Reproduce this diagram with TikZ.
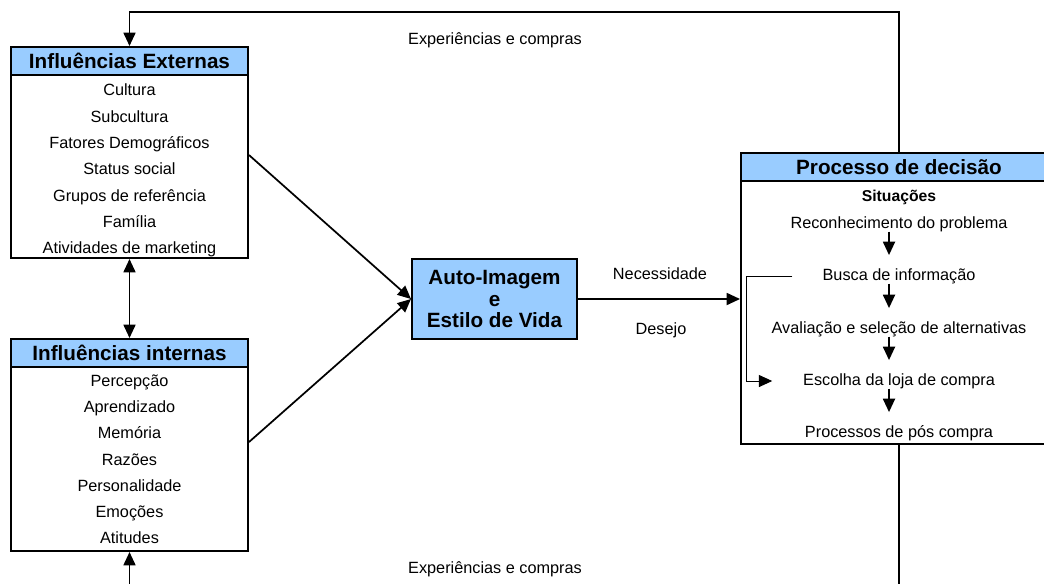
\documentclass[tikz,border=0pt]{standalone}
\usepackage{fontspec}
\setmainfont{Liberation Sans}
\usetikzlibrary{arrows.meta}
\definecolor{headblue}{RGB}{153,204,255}

\begin{document}
\begin{tikzpicture}[x=0.75pt, y=-0.75pt,
    box/.style={draw, line width=1.5pt, inner sep=0pt},
    head/.style={box, fill=headblue, minimum height=21pt,
      font=\bfseries\fontsize{15.5}{18}\selectfont},
    item/.style={inner sep=0pt, text height=8.5pt, text depth=2.5pt,
      font=\fontsize{12.2}{14}\selectfont},
    tip/.tip={Triangle[length=10pt, width=9pt]},
    flow/.style={line width=1.3pt, -tip},
    both/.style={line width=1.3pt, tip-tip},
    line/.style={line width=1.3pt}]
    \useasboundingbox (0, 0) rectangle (1044, 583);
    \clip (0, 0) rectangle (1044, 583);

    % external influences
    \node[box, minimum width=177.75pt, minimum height=137.25pt] (extBody)
      at (129.5, 166.5) {};
    \node[head, minimum width=177.75pt] (extHead) at (129.5, 61)
      {Influências Externas};
    \node[item] (cultura) at (129.5, 91) {Cultura};
    \node[item] (subcultura) at (129.5, 118) {Subcultura};
    \node[item] (demog) at (129.5, 144) {Fatores Demográficos};
    \node[item] (status) at (129.5, 170) {Status social};
    \node[item] (grupos) at (129.5, 197) {Grupos de referência};
    \node[item] (familia) at (129.5, 223) {Família};
    \node[item] (marketing) at (129.5, 249) {Atividades de marketing};

    % internal influences
    \node[box, minimum width=177.75pt, minimum height=138pt] (intBody)
      at (129.5, 459) {};
    \node[head, minimum width=177.75pt] (intHead) at (129.5, 353)
      {Influências internas};
    \node[item] (percepcao) at (129.5, 382) {Percepção};
    \node[item] (aprendizado) at (129.5, 408) {Aprendizado};
    \node[item] (memoria) at (129.5, 434) {Memória};
    \node[item] (razoes) at (129.5, 461) {Razões};
    \node[item] (personalidade) at (129.5, 487) {Personalidade};
    \node[item] (emocoes) at (129.5, 513) {Emoções};
    \node[item] (atitudes) at (129.5, 539) {Atitudes};

    % self image
    \node[box, fill=headblue, minimum width=123.75pt, minimum height=60pt,
      align=center, font=\bfseries\fontsize{15.5}{16}\selectfont] (auto)
      at (494.5, 299) {Auto-Imagem\\e\\Estilo de Vida};

    % decision process
    \node[box, minimum width=237pt, minimum height=197.25pt] (procBody)
      at (899, 312.5) {};
    \node[head, minimum width=237pt] (procHead) at (899, 167)
      {Processo de decisão};
    \node[item, font=\bfseries\fontsize{11.8}{14}\selectfont] (situacoes)
      at (899, 197) {Situações};
    \node[item] (reco) at (899, 224) {Reconhecimento do problema};
    \node[item] (busca) at (899, 276) {Busca de informação};
    \node[item] (avalia) at (899, 329) {Avaliação e seleção de alternativas};
    \node[item] (escolha) at (899, 381) {Escolha da loja de compra};
    \node[item] (pos) at (899, 433) {Processos de pós compra};

    % labels
    \node[item] (expTop) at (495, 40) {Experiências e compras};
    \node[item] (expBot) at (495, 569) {Experiências e compras};
    \node[item] (necess) at (660, 275) {Necessidade};
    \node[item] (desejo) at (661, 330) {Desejo};

    % connectors
    \coordinate (stepX) at (889, 0);
    \coordinate (loopX) at (746, 0);
    \coordinate (topY) at (0, 12);
    \coordinate (botY) at (0, 600);

    \draw[flow] (procHead.north) -- (procHead.north |- topY) -| (extHead.north);
    \draw[both] (extBody.south) -- (intHead.north);
    \draw[flow] ([yshift=8.6pt]extBody.east) -- (auto.west);
    \draw[flow] ([yshift=12.75pt]intBody.east) -- (auto.west);
    \draw[flow] (auto.east) -- (auto.east -| procBody.west);
    \draw[line] (procBody.south) -- (procBody.south |- botY);
    \draw[flow] (intBody.south |- botY) -- (intBody.south);

    % steps
    \draw[flow, shorten >=10pt] (reco.south -| stepX) -- (busca.north -| stepX);
    \draw[flow, shorten >=10pt] (busca.south -| stepX) -- (avalia.north -| stepX);
    \draw[flow, shorten >=10pt] (avalia.south -| stepX) -- (escolha.north -| stepX);
    \draw[flow, shorten >=10pt] (escolha.south -| stepX) -- (pos.north -| stepX);
    \draw[line width=0.75pt, -tip]
      ([xshift=-22.5pt]busca.west) -- (busca.west -| loopX) --
      (escolha.west -| loopX) -- ([xshift=-23pt]escolha.west);
\end{tikzpicture}
\end{document}
